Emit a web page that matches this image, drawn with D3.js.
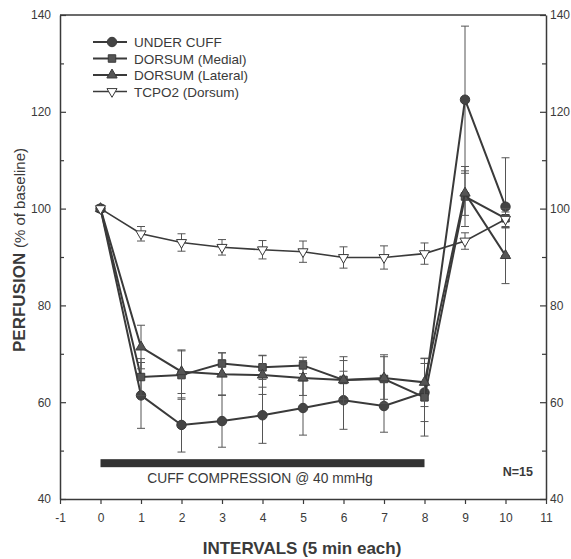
<!DOCTYPE html>
<html>
<head>
<meta charset="utf-8">
<script src="https://cdn.jsdelivr.net/npm/d3@7"></script>
<style>
  body { margin: 0; background: #fff; }
  svg text { font-family: "Liberation Sans", Arial, sans-serif; fill: #3a3a3a; }
</style>
</head>
<body>
<div id="chart"></div>
<script>
// data
var intervals = [0, 1, 2, 3, 4, 5, 6, 7, 8, 9, 10];

var underCuff = [100, 61.4, 55.3, 56.1, 57.3, 58.8, 60.4, 59.2, 62.0, 122.5, 100.4];
var underCuffErr = [0, 6.8, 5.6, 5.4, 5.8, 5.6, 6.0, 5.4, 6.0, 15.2, 10.1];

var medial = [100, 65.2, 65.6, 68.0, 67.2, 67.6, 64.6, 64.8, 61.0, 102.5, 98.0];
var medialErr = [0, 3.8, 5.0, 2.2, 2.5, 1.7, 4.8, 5.0, 8.0, 6.2, 2.0];

var lateral = [100, 71.4, 66.3, 65.8, 65.6, 65.0, 64.6, 65.0, 64.1, 103.2, 90.3];
var lateralErr = [0, 4.5, 4.5, 4.4, 4.0, 3.6, 4.0, 4.4, 5.0, 4.6, 5.8];

var tcpo2 = [100, 94.8, 93.0, 92.0, 91.5, 91.1, 89.9, 89.9, 90.7, 93.3, 97.8];
var tcpo2Err = [0, 1.5, 1.8, 1.6, 1.9, 2.2, 2.2, 2.4, 2.2, 1.7, 1.5];

var seriesNames = ["UNDER CUFF", "DORSUM (Medial)", "DORSUM (Lateral)", "TCPO2 (Dorsum)"];
var xTicks = [-1, 0, 1, 2, 3, 4, 5, 6, 7, 8, 9, 10, 11];
var yTicks = [40, 60, 80, 100, 120, 140];
var yMinorTicks = [50, 70, 90, 110, 130];

var cuffStart = 0, cuffEnd = 8, cuffLevel = 47.4;

var svgWidth = 571;
var svgHeight = 559;

var svg = d3.select("#chart")
  .append("svg")
  .attr("width", svgWidth)
  .attr("height", svgHeight);

var x = d3.scaleLinear().domain([-1, 11]).range([60, 546]);
var y = d3.scaleLinear().domain([40, 140]).range([499, 15]);

var ink = "#3a3a3a";
var plain = function(d) { return String(d); };

// frame top line
svg.append("line")
  .attr("x1", x(-1)).attr("x2", x(11))
  .attr("y1", y(140)).attr("y2", y(140))
  .attr("stroke", ink).attr("stroke-width", 1.5);

// left axis
svg.append("g")
  .attr("transform", `translate(${x(-1)},0)`)
  .call(d3.axisLeft(y).tickValues(yTicks).tickFormat(plain).tickSize(-6).tickSizeOuter(0).tickPadding(9));
svg.append("g")
  .attr("transform", `translate(${x(-1)},0)`)
  .call(d3.axisLeft(y).tickValues(yMinorTicks).tickSize(-4).tickFormat(""))
  .select(".domain").remove();

// right axis
svg.append("g")
  .attr("transform", `translate(${x(11)},0)`)
  .call(d3.axisRight(y).tickValues(yTicks).tickFormat(plain).tickSize(-6).tickSizeOuter(0).tickPadding(4));
svg.append("g")
  .attr("transform", `translate(${x(11)},0)`)
  .call(d3.axisRight(y).tickValues(yMinorTicks).tickSize(-4).tickFormat(""))
  .select(".domain").remove();

// bottom axis
svg.append("g")
  .attr("transform", `translate(0,${y(40)})`)
  .call(d3.axisBottom(x).tickValues(xTicks).tickFormat(plain).tickSize(5).tickSizeOuter(0).tickPadding(9));

svg.selectAll(".domain").attr("stroke", ink).attr("stroke-width", 1.5);
svg.selectAll(".tick line").attr("stroke", ink).attr("stroke-width", 1.2);
svg.selectAll(".tick text")
  .style("font-family", "'Liberation Sans', Arial, sans-serif")
  .style("font-size", "12px")
  .attr("fill", "#444");

// cuff compression bar
svg.append("rect")
  .attr("x", x(cuffStart))
  .attr("y", y(cuffLevel) - 4)
  .attr("width", x(cuffEnd) - x(cuffStart))
  .attr("height", 8)
  .attr("fill", "#333");

svg.append("text")
  .attr("x", 260).attr("y", 483)
  .attr("text-anchor", "middle")
  .style("font-size", "13.8px")
  .text("CUFF COMPRESSION @ 40 mmHg");

svg.append("text")
  .attr("x", 533).attr("y", 476)
  .attr("text-anchor", "end")
  .style("font-size", "12.5px")
  .style("font-weight", "bold")
  .text("N=15");

// series
var series = [
  { name: seriesNames[0], values: underCuff, err: underCuffErr, shape: d3.symbolCircle, size: 70, fill: "#444", width: 2 },
  { name: seriesNames[1], values: medial, err: medialErr, shape: d3.symbolSquare, size: 56, fill: "#555", width: 2 },
  { name: seriesNames[2], values: lateral, err: lateralErr, shape: d3.symbolTriangle, size: 46, fill: "#555", width: 2 },
  { name: seriesNames[3], values: tcpo2, err: tcpo2Err, shape: d3.symbolTriangle, size: 44, fill: "#fff", width: 1.6, flip: true }
];

var line = d3.line()
  .x(function(d) { return x(d.i); })
  .y(function(d) { return y(d.v); });

series.forEach(function(s) {
  var pts = intervals.map(function(i, k) { return { i: i, v: s.values[k], e: s.err[k] }; });
  var g = svg.append("g");

  // error bars
  pts.filter(function(d) { return d.e > 0; }).forEach(function(d) {
    g.append("line")
      .attr("x1", x(d.i)).attr("x2", x(d.i))
      .attr("y1", y(d.v + d.e)).attr("y2", y(d.v - d.e))
      .attr("stroke", "#555").attr("stroke-width", 1);
    [d.v + d.e, d.v - d.e].forEach(function(v) {
      g.append("line")
        .attr("x1", x(d.i) - 4).attr("x2", x(d.i) + 4)
        .attr("y1", y(v)).attr("y2", y(v))
        .attr("stroke", "#555").attr("stroke-width", 1);
    });
  });

  g.append("path")
    .datum(pts)
    .attr("d", line)
    .attr("fill", "none")
    .attr("stroke", ink)
    .attr("stroke-width", s.width);

  g.selectAll("path.marker")
    .data(pts)
    .enter()
    .append("path")
    .attr("class", "marker")
    .attr("d", d3.symbol().type(s.shape).size(s.size))
    .attr("transform", function(d) {
      return `translate(${x(d.i)},${y(d.v)})` + (s.flip ? " rotate(180)" : "");
    })
    .attr("fill", s.fill)
    .attr("stroke", ink)
    .attr("stroke-width", 1);
});

// legend
var legend = svg.append("g");
series.forEach(function(s, k) {
  var ly = 42 + k * 16.5;
  legend.append("line")
    .attr("x1", 93).attr("x2", 127)
    .attr("y1", ly).attr("y2", ly)
    .attr("stroke", ink).attr("stroke-width", s.width);
  legend.append("path")
    .attr("d", d3.symbol().type(s.shape).size(s.size))
    .attr("transform", `translate(112,${ly})` + (s.flip ? " rotate(180)" : ""))
    .attr("fill", s.fill)
    .attr("stroke", ink)
    .attr("stroke-width", 1);
  legend.append("text")
    .attr("x", 134).attr("y", ly + 5)
    .style("font-size", "13.5px")
    .text(s.name);
});

// axis titles
var yTitle = svg.append("text")
  .attr("transform", "translate(25,250) rotate(-90)")
  .attr("text-anchor", "middle");
yTitle.append("tspan")
  .style("font-size", "17px")
  .style("font-weight", "bold")
  .text("PERFUSION ");
yTitle.append("tspan")
  .style("font-size", "15px")
  .text(" (% of baseline)");

svg.append("text")
  .attr("x", 302).attr("y", 554)
  .attr("text-anchor", "middle")
  .style("font-size", "17px")
  .style("font-weight", "bold")
  .text("INTERVALS (5 min each)");
</script>
</body>
</html>
